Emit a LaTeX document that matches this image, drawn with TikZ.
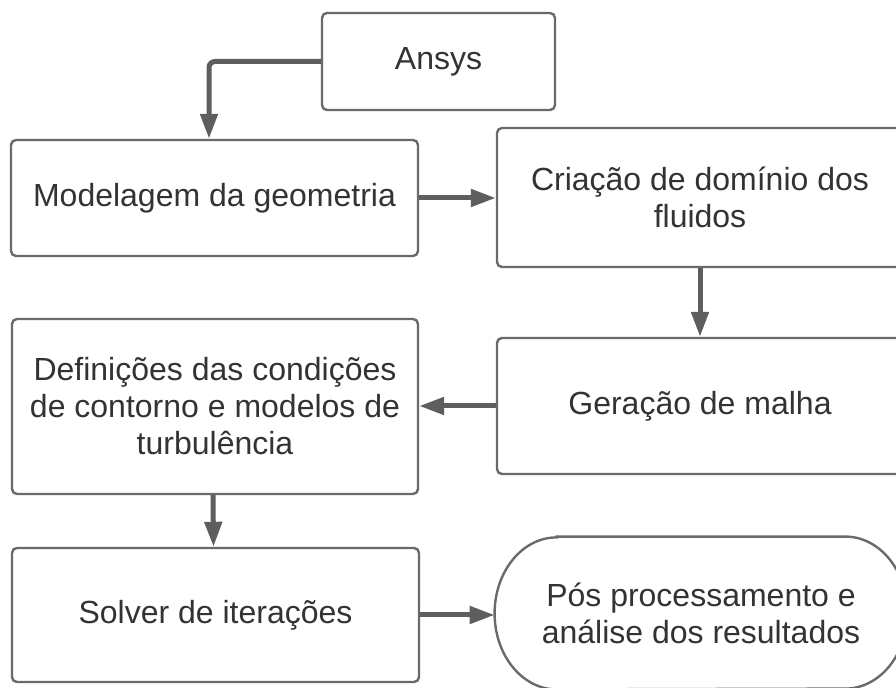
\documentclass[tikz,border=0pt]{standalone}
\usepackage{fontspec}
\setmainfont{Liberation Sans}
\usetikzlibrary{arrows.meta,positioning,calc}

\definecolor{boxgray}{HTML}{6A6A6A}
\definecolor{arrgray}{HTML}{5E5E5E}
\definecolor{txtgray}{HTML}{333333}

\begin{document}
\begin{tikzpicture}[
    x=0.5pt, y=-0.5pt,
    box/.style={draw=boxgray, line width=1.2pt, rounded corners=2.5pt, fill=white, align=center, text=txtgray, inner sep=0pt, font=\fontsize{16pt}{18.5pt}\selectfont},
    term/.style={align=center, text=txtgray, inner sep=0pt, font=\fontsize{16pt}{18.5pt}\selectfont},
    arr/.style={-{Triangle[length=12.5pt,width=8.5pt]}, line width=2.5pt, draw=arrgray}
]
\useasboundingbox (0,0) rectangle (896,688);

\node[box, minimum width=116.5pt, minimum height=48.5pt] (ansys) at (438.5,61.5) {Ansys};
\node[box, minimum width=203.5pt, minimum height=58pt] (model) at (214.5,198) {Modelagem da geometria};
\node[box, minimum width=203pt, minimum height=69.5pt] (dominio) at (700,197.5) {Criação de domínio dos\\fluidos};
\node[box, minimum width=203pt, minimum height=68pt] (malha) at (700,406) {Geração de malha};
\node[box, minimum width=203pt, minimum height=87.5pt] (cond) at (215,406.5) {Definições das condições\\de contorno e modelos de\\turbulência};
\node[box, minimum width=203.5pt, minimum height=67pt] (solver) at (215.5,615) {Solver de iterações};
\node[term, minimum width=206pt, minimum height=76pt] (pos) at (701,613) {Pós processamento e\\análise dos resultados};

% terminal shape
\draw[draw=boxgray, line width=1.2pt]
    ([xshift=31pt]pos.north west) -- ([xshift=-31pt]pos.north east)
    arc[start angle=90, end angle=-90, x radius=31pt, y radius=38pt]
    -- ([xshift=31pt]pos.south west)
    arc[start angle=270, end angle=90, x radius=31pt, y radius=38pt] -- cycle;

\draw[arr, rounded corners=3pt] (ansys.west) -| ([xshift=-2.75pt]model.north);
\draw[arr] (model.east) -- (model.east -| dominio.west);
\draw[arr] (dominio.south) -- (malha.north);
\draw[arr] (malha.west) -- (malha.west -| cond.east);
\draw[arr] ([xshift=-1pt]cond.south) -- ([xshift=-1pt]solver.north);
\draw[arr] (solver.east) -- (solver.east -| pos.west);
\end{tikzpicture}
\end{document}
